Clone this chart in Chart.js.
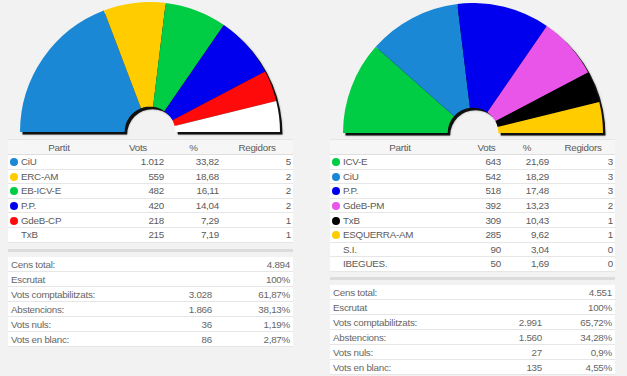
<!DOCTYPE html>
<html>
<head>
<meta charset="utf-8">
<script src="https://cdn.jsdelivr.net/npm/chart.js@4.4.1/dist/chart.umd.min.js"></script>
<style>
  body { margin: 0; width: 627px; height: 376px; overflow: hidden; position: relative;
         background: #f2f2f2; font-family: "Liberation Sans", Arial, sans-serif; font-size: 9.8px;
         letter-spacing: -0.25px; color: #5a5a5a; }
  .box { position: absolute; }
  table { position: absolute; border-collapse: collapse; table-layout: fixed; }
  table.res { border-top: 1px solid #e6e6e6; }
  .res th { font-weight: normal; height: 14px; padding: 0; text-align: center; background: #f6f6f6;
            border-bottom: 1px solid #dedede; color: #5a5a5a; }
  .res td { height: 13.6px; padding: 0 2px 0 0; text-align: right; background: #fff;
            border-bottom: 1px solid #e6e6e6; white-space: nowrap; }
  .res td.name { text-align: left; padding-left: 2px; }
  .sum td { height: 14px; padding: 0 3px 0 0; text-align: right; background: #fff;
            border-bottom: 1px solid #e6e6e6; white-space: nowrap; color: #666; }
  .sum td.name { text-align: left; padding-left: 3px; }
  .dot { display: inline-block; width: 8px; height: 8px; border-radius: 50%; margin-right: 3px; vertical-align: -1px; }
  .bar { position: absolute; height: 3px; background: #dcdcdc; }
</style>
</head>
<body>
<div class="box" style="left:20px;top:2px"><canvas id="leftChart" width="266" height="136"></canvas></div>
<div class="box" style="left:343px;top:3px"><canvas id="rightChart" width="266" height="136"></canvas></div>

<table id="leftTable" class="res" style="left:8px;top:139px;width:285px">
  <colgroup><col style="width:102px"><col style="width:56px"><col style="width:55px"><col style="width:72px"></colgroup>
</table>
<div class="bar" style="left:8px;top:249px;width:285px"></div>
<table id="leftSummary" class="sum" style="left:8px;top:257px;width:285px">
  <colgroup><col style="width:142px"><col style="width:65px"><col style="width:78px"></colgroup>
</table>

<table id="rightTable" class="res" style="left:330px;top:139px;width:285px">
  <colgroup><col style="width:140px"><col style="width:33px"><col style="width:48px"><col style="width:64px"></colgroup>
</table>
<div class="bar" style="left:330px;top:277px;width:285px"></div>
<table id="rightSummary" class="sum" style="left:330px;top:285px;width:285px">
  <colgroup><col style="width:150px"><col style="width:65px"><col style="width:70px"></colgroup>
</table>

<script>
const HEADERS = ['Partit', 'Vots', '%', 'Regidors'];

const LEFT_PARTIES = ['CiU', 'ERC-AM', 'EB-ICV-E', 'P.P.', 'GdeB-CP', 'TxB'];
const LEFT_VOTES = [1012, 559, 482, 420, 218, 215];
const LEFT_PCT = [33.82, 18.68, 16.11, 14.04, 7.29, 7.19];
const LEFT_SEATS = [5, 2, 2, 2, 1, 1];
const LEFT_COLORS = ['#1a88d4', '#ffcc00', '#00cc44', '#0000ee', '#ff0a0a', '#ffffff'];

const RIGHT_PARTIES = ['ICV-E', 'CiU', 'P.P.', 'GdeB-PM', 'TxB', 'ESQUERRA-AM', 'S.I.', 'IBEGUES.'];
const RIGHT_VOTES = [643, 542, 518, 392, 309, 285, 90, 50];
const RIGHT_PCT = [21.69, 18.29, 17.48, 13.23, 10.43, 9.62, 3.04, 1.69];
const RIGHT_SEATS = [3, 3, 3, 2, 1, 1, 0, 0];
const RIGHT_COLORS = ['#00cc44', '#1a88d4', '#0000ee', '#e855e8', '#000000', '#ffcc00', '#ffffff', '#ffffff'];

const SUMMARY_LABELS = ['Cens total:', 'Escrutat', 'Vots comptabilitzats:', 'Abstencions:', 'Vots nuls:', 'Vots en blanc:'];
const LEFT_CENS = 4894;
const LEFT_SUM_COUNT = [null, null, 3028, 1866, 36, 86];
const LEFT_SUM_PCT = [null, 100, 61.87, 38.13, 1.19, 2.87];
const RIGHT_CENS = 4551;
const RIGHT_SUM_COUNT = [null, null, 2991, 1560, 27, 135];
const RIGHT_SUM_PCT = [null, 100, 65.72, 34.28, 0.9, 4.55];

function fmtInt(n) { return String(n).replace(/\B(?=(\d{3})+(?!\d))/g, '.'); }
function fmtDec(n) { return String(n).replace('.', ','); }

// dark offset shape under the arcs, like the drop shadow of the original
const shadowPlugin = {
  id: 'arcShadow',
  beforeDatasetsDraw(chart) {
    const arcs = chart.getDatasetMeta(0).data;
    if (!arcs.length) return;
    const a = arcs[0], b = arcs[arcs.length - 1];
    const ctx = chart.ctx;
    ctx.save();
    ctx.translate(2.5, 2.5);
    ctx.fillStyle = 'rgba(0,0,0,0.9)';
    ctx.shadowColor = 'rgba(0,0,0,0.45)';
    ctx.shadowBlur = 2;
    ctx.beginPath();
    ctx.arc(a.x, a.y, a.outerRadius, a.startAngle, b.endAngle);
    ctx.arc(a.x, a.y, a.innerRadius, b.endAngle, a.startAngle, true);
    ctx.closePath();
    ctx.fill();
    ctx.restore();
  }
};

function drawParliament(id, labels, seats, colors) {
  new Chart(document.getElementById(id), {
    type: 'doughnut',
    data: { labels, datasets: [{ data: seats, backgroundColor: colors, borderWidth: 0 }] },
    options: {
      responsive: false, animation: false,
      rotation: -90, circumference: 180, cutout: '19.5%',
      layout: { padding: { left: 0, top: 0, right: 6, bottom: 6 } },
      plugins: { legend: { display: false }, tooltip: { enabled: false } },
      events: []
    },
    plugins: [shadowPlugin]
  });
}

function fillResults(id, parties, votes, pct, seats, colors) {
  const t = document.getElementById(id);
  let html = '<tr>' + HEADERS.map(h => `<th>${h}</th>`).join('') + '</tr>';
  parties.forEach((p, i) => {
    html += `<tr><td class="name"><span class="dot" style="background:${colors[i]}"></span>${p}</td>` +
      `<td>${fmtInt(votes[i])}</td><td>${fmtDec(pct[i])}</td><td>${seats[i]}</td></tr>`;
  });
  t.insertAdjacentHTML('beforeend', html);
}

function fillSummary(id, cens, counts, pcts) {
  const t = document.getElementById(id);
  let html = '';
  SUMMARY_LABELS.forEach((lab, i) => {
    const c = counts[i] == null ? '' : fmtInt(counts[i]);
    const p = i === 0 ? fmtInt(cens) : fmtDec(pcts[i]) + '%';
    html += `<tr><td class="name">${lab}</td><td>${c}</td><td>${p}</td></tr>`;
  });
  t.insertAdjacentHTML('beforeend', html);
}

drawParliament('leftChart', LEFT_PARTIES, LEFT_SEATS, LEFT_COLORS);
drawParliament('rightChart', RIGHT_PARTIES, RIGHT_SEATS, RIGHT_COLORS);
fillResults('leftTable', LEFT_PARTIES, LEFT_VOTES, LEFT_PCT, LEFT_SEATS, LEFT_COLORS);
fillResults('rightTable', RIGHT_PARTIES, RIGHT_VOTES, RIGHT_PCT, RIGHT_SEATS, RIGHT_COLORS);
fillSummary('leftSummary', LEFT_CENS, LEFT_SUM_COUNT, LEFT_SUM_PCT);
fillSummary('rightSummary', RIGHT_CENS, RIGHT_SUM_COUNT, RIGHT_SUM_PCT);
</script>
</body>
</html>
